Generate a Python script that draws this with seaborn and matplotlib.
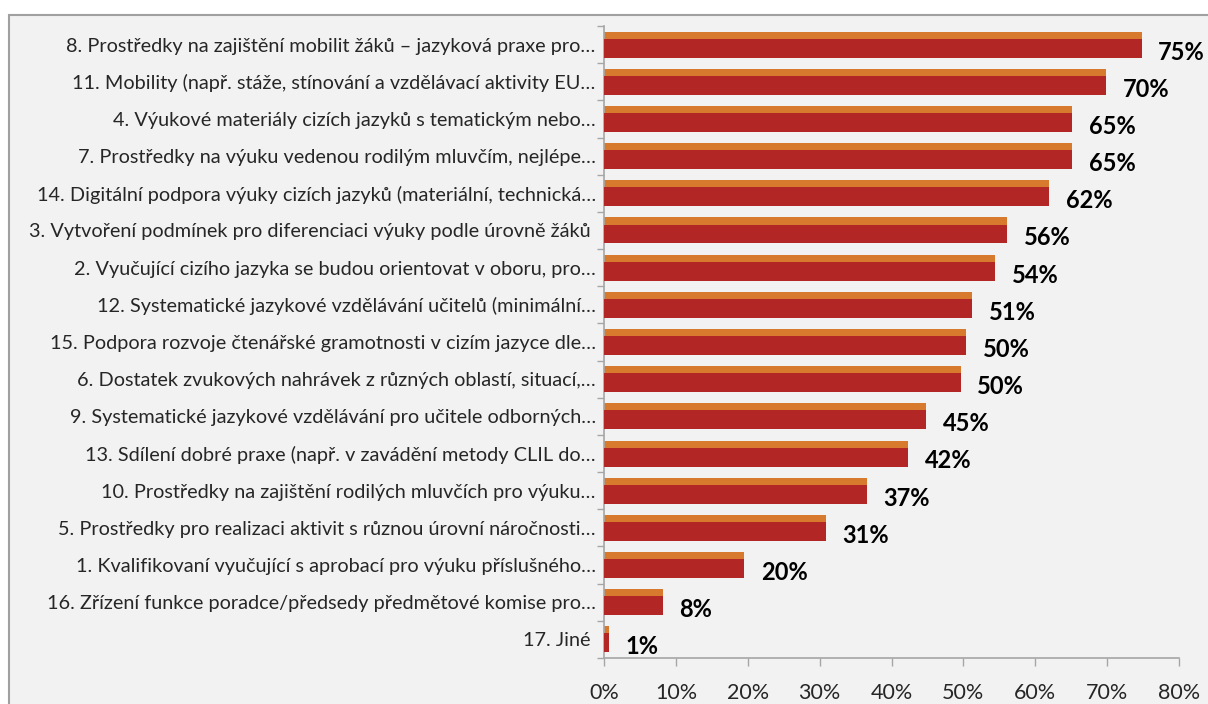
import numpy as np
import pandas as pd
import seaborn as sns
import matplotlib
matplotlib.use("Agg")
import matplotlib.pyplot as plt
from matplotlib.patches import Rectangle
from matplotlib.ticker import FuncFormatter

labels = [
    "8. Prostředky na zajištění mobilit žáků – jazyková praxe pro…",
    "11. Mobility (např. stáže, stínování a vzdělávací aktivity EU…",
    "4. Výukové materiály cizích jazyků s tematickým nebo…",
    "7. Prostředky na výuku vedenou rodilým mluvčím, nejlépe…",
    "14. Digitální podpora výuky cizích jazyků (materiální, technická…",
    "3. Vytvoření podmínek pro diferenciaci výuky podle úrovně žáků ",
    "2. Vyučující cizího jazyka se budou orientovat v oboru, pro…",
    "12. Systematické jazykové vzdělávání učitelů (minimální…",
    "15. Podpora rozvoje čtenářské gramotnosti v cizím jazyce dle…",
    "6. Dostatek zvukových nahrávek z různých oblastí, situací,…",
    "9. Systematické jazykové vzdělávání pro učitele odborných…",
    "13. Sdílení dobré praxe (např. v zavádění metody CLIL do…",
    "10. Prostředky na zajištění rodilých mluvčích pro výuku…",
    "5. Prostředky pro realizaci aktivit s různou úrovní náročnosti…",
    "1. Kvalifikovaní vyučující s aprobací pro výuku příslušného…",
    "16. Zřízení funkce poradce/předsedy předmětové komise pro…",
    "17. Jiné ",
]
values = [74.8, 69.9, 65.1, 65.1, 61.9, 56.1, 54.4, 51.2, 50.4, 49.6,
          44.8, 42.3, 36.6, 30.9, 19.5, 8.2, 0.7]
value_labels = ["75%", "70%", "65%", "65%", "62%", "56%", "54%", "51%", "50%",
                "50%", "45%", "42%", "37%", "31%", "20%", "8%", "1%"]
x_ticks = [0, 10, 20, 30, 40, 50, 60, 70, 80]

ORANGE = "#d77a2d"
RED = "#b22626"
BG = "#f2f2f2"
AXIS = "#a6a6a6"

sns.set_theme(style="white")
plt.rcParams["font.family"] = ["Lato", "DejaVu Sans"]

fig = plt.figure(figsize=(12.08, 7.04), dpi=100)
fig.patch.set_facecolor("white")
fig.patches.append(Rectangle((9 / 1208, -0.05), 1.1, 1 - 15 / 704 + 0.05,
                             transform=fig.transFigure, facecolor=BG,
                             edgecolor="#a0a0a0", linewidth=1.5, zorder=-5))

ax = fig.add_axes([604 / 1208, 1 - 658 / 704, (1179 - 604) / 1208, (658 - 26) / 704])
ax.set_facecolor(BG)
ax.set_zorder(2)

df = pd.DataFrame({"label": labels, "value": values})
sns.barplot(data=df, x="value", y="label", orient="h", color=ORANGE,
            width=0.70, saturation=1, linewidth=0, edgecolor="none", ax=ax)
pos = np.arange(len(labels))
ax.barh(pos + 0.095, values, height=0.51, color=RED, linewidth=0, zorder=3)

for p, v, t in zip(pos, values, value_labels):
    ax.annotate(t, xy=(v, p + 0.2), xytext=(12, 0), textcoords="offset points",
                ha="left", va="center", fontsize=17, fontweight="bold",
                color="black", annotation_clip=False)

ax.set_xlim(0, 80)
ax.set_ylim(len(labels) - 0.5, -0.5)
ax.set_xticks(x_ticks)
ax.xaxis.set_major_formatter(FuncFormatter(lambda x, _: f"{x:.0f}%"))
ax.set_yticks(pos)
ax.set_yticklabels(labels)
ax.set_yticks(np.arange(-0.5, len(labels), 1), minor=True)
ax.tick_params(axis="y", which="major", length=0, pad=6, labelsize=14.3)
ax.tick_params(axis="y", which="minor", length=5, color=AXIS, width=1, left=True)
ax.tick_params(axis="x", which="major", length=6, color=AXIS, width=1,
               labelsize=15.5, pad=12, bottom=True)
ax.set_xlabel("")
ax.set_ylabel("")
for s in ["top", "right"]:
    ax.spines[s].set_visible(False)
for s in ["left", "bottom"]:
    ax.spines[s].set_visible(True)
    ax.spines[s].set_color(AXIS)
    ax.spines[s].set_linewidth(1.2)

fig.savefig("out.png", dpi=100, facecolor=fig.get_facecolor())
